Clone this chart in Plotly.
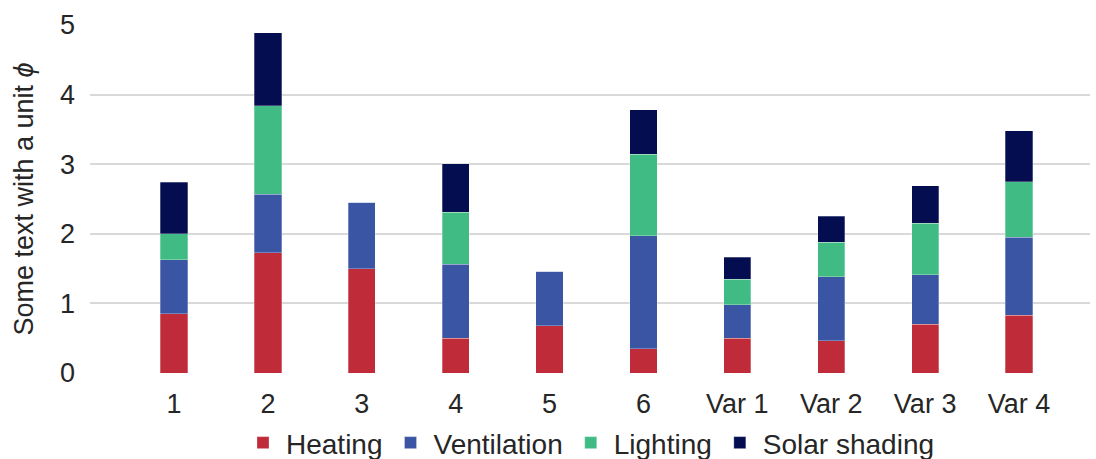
import plotly.graph_objects as go

categories = ["1", "2", "3", "4", "5", "6", "Var 1", "Var 2", "Var 3", "Var 4"]
heating = [0.85, 1.73, 1.50, 0.50, 0.68, 0.35, 0.50, 0.46, 0.70, 0.83]
ventilation = [0.78, 0.84, 0.95, 1.06, 0.78, 1.62, 0.48, 0.92, 0.71, 1.12]
lighting = [0.37, 1.27, 0.0, 0.75, 0.0, 1.17, 0.37, 0.50, 0.74, 0.80]
solar_shading = [0.74, 1.05, 0.0, 0.70, 0.0, 0.64, 0.31, 0.37, 0.54, 0.73]

series = [
    ("Heating", heating, "#BF2B38"),
    ("Ventilation", ventilation, "#3B55A5"),
    ("Lighting", lighting, "#41BB84"),
    ("Solar shading", solar_shading, "#030D4F"),
]

FONT = "Liberation Sans, Arial, sans-serif"
TXT = "#262626"

fig = go.Figure()
for name, vals, col in series:
    fig.add_trace(go.Bar(
        name=name, x=categories, y=vals, width=0.29,
        marker=dict(color=col, line=dict(color="rgba(255,255,255,0.35)", width=0.8)),
    ))

fig.update_layout(
    barmode="stack",
    width=1096, height=459,
    margin=dict(l=90, r=6, t=25, b=86),
    paper_bgcolor="white", plot_bgcolor="white",
    font=dict(family=FONT, color=TXT, size=27),
    showlegend=True,
    legend=dict(orientation="h", x=0.5, xanchor="center", xref="paper",
                y=0.035, yanchor="middle", yref="container",
                font=dict(size=28, color=TXT), traceorder="normal",
                itemwidth=36, tracegroupgap=0, bgcolor="rgba(0,0,0,0)"),
    xaxis=dict(type="category", range=[-0.895, 9.756], showgrid=False, zeroline=False,
               showline=False, ticks="", ticklabelstandoff=12,
               tickfont=dict(size=27, color=TXT), automargin=False),
    yaxis=dict(range=[0, 5], tickvals=[0, 1, 2, 3, 4, 5], showgrid=True,
               gridcolor="#D9D9D9", gridwidth=1.5, zeroline=False, showline=False,
               ticks="", ticklabelstandoff=14, tickfont=dict(size=27, color=TXT),
               title=dict(text="Some text with a unit <i>ϕ</i>", font=dict(size=27, color=TXT), standoff=18),
               automargin=False),
)

fig.write_html("out.html", config={"displayModeBar": False},
               post_script="document.body.style.margin='0';")
